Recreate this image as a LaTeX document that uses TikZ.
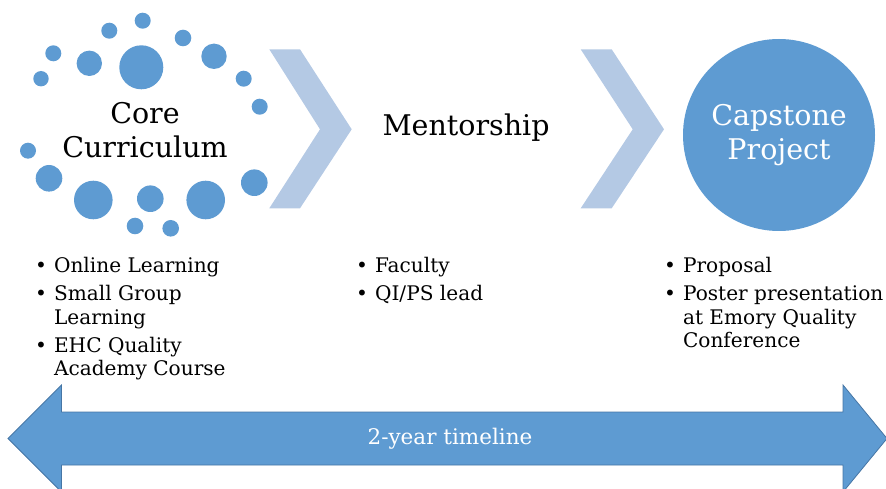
\documentclass[tikz,border=0pt]{standalone}
\usepackage{fontspec}
\setmainfont{DejaVu Serif}
\usetikzlibrary{positioning}

\definecolor{dotblue}{RGB}{94,155,210}
\definecolor{chevblue}{RGB}{180,201,228}
\definecolor{edgeblue}{RGB}{70,118,165}

\begin{document}
\begin{tikzpicture}[x=1pt,y=-1pt,
	dot/.style={fill=dotblue},
	chevron/.style={fill=chevblue},
	heading/.style={align=center,font=\fontsize{28.5}{34}\selectfont},
	bullets/.style={anchor=base west,inner sep=0pt,font=\fontsize{20.1}{23.5}\selectfont}]

\path[use as bounding box,clip] (0,0) rectangle (886,489);

% dots round the core curriculum
\fill[dot] (142.7,20.7) circle (8);
\fill[dot] (109.3,30.7) circle (8);
\fill[dot] (53.3,53.3) circle (8);
\fill[dot] (41,78.7) circle (7.7);
\fill[dot] (89.3,63.3) circle (12.7);
\fill[dot] (141.3,67.3) circle (22);
\fill[dot] (183,38) circle (8.3);
\fill[dot] (214,56.3) circle (12.7);
\fill[dot] (243.7,78.7) circle (8);
\fill[dot] (259.7,106.7) circle (8);
\fill[dot] (28,150.7) circle (8);
\fill[dot] (49,178.3) circle (13.3);
\fill[dot] (93.3,200) circle (19.3);
\fill[dot] (150.3,198.7) circle (13.3);
\fill[dot] (205.7,200) circle (19.3);
\fill[dot] (254.3,182.7) circle (13.3);
\fill[dot] (135,226) circle (8.3);
\fill[dot] (170.7,228.3) circle (8.3);

% chevrons
\fill[chevron] (269.3,49.3) -- (300,49.3) -- (351.7,129.3) -- (300,208.3) -- (269.3,208.3) -- (320,129.3) -- cycle;
\fill[chevron] (580.7,49.3) -- (611.7,49.3) -- (664,129.3) -- (611.7,208.3) -- (580.7,208.3) -- (632.7,129.3) -- cycle;

	\node[heading] 	(core) at (145,130) 	{Core\\Curriculum};
	\node[heading] 	(ment) at (466,128) 	{Mentorship};
	\node[heading,circle,fill=dotblue,text=white,minimum size=192pt,inner sep=0pt] 	(cap) at (779,135) 	{Capstone\\Project};

	\node[bullets] 	(corelist) at (35,272) 	{\begin{tabular}[t]{@{}c@{\hspace{7pt}}l@{}}
		\textbullet & Online Learning\\[5pt]
		\textbullet & Small Group\\
		 & Learning\\[5pt]
		\textbullet & EHC Quality\\
		 & Academy Course
	\end{tabular}};
	\node[bullets] 	(mentlist) at (356,272) 	{\begin{tabular}[t]{@{}c@{\hspace{7pt}}l@{}}
		\textbullet & Faculty\\[5pt]
		\textbullet & QI/PS lead
	\end{tabular}};
	\node[bullets] 	(caplist) at (664,272) 	{\begin{tabular}[t]{@{}c@{\hspace{7pt}}l@{}}
		\textbullet & Proposal\\[5pt]
		\textbullet & Poster presentation\\
		 & at Emory Quality\\
		 & Conference
	\end{tabular}};

% timeline arrow
\filldraw[fill=dotblue,draw=edgeblue,line width=0.8pt] (8,438.5) -- (61.5,385) -- (61.5,412) -- (843,412) -- (843,385) -- (887,438.5) -- (843,492) -- (843,465) -- (61.5,465) -- (61.5,492) -- cycle;
	\node[text=white,font=\fontsize{21.5}{26}\selectfont] 	(time) at (450,438.5) 	{2-year timeline};

\end{tikzpicture}
\end{document}
